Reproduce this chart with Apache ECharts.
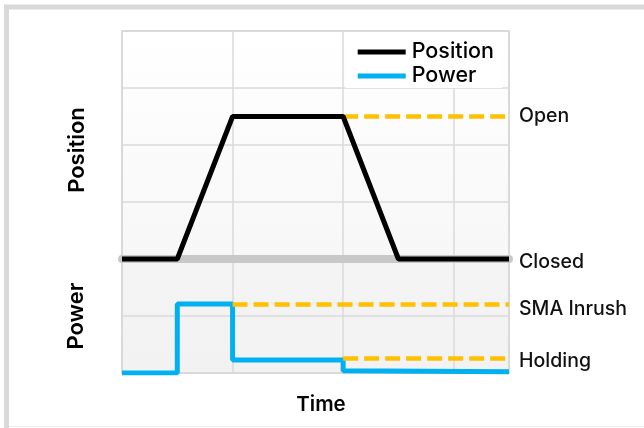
<!DOCTYPE html>
<html><head><meta charset="utf-8">
<script src="https://cdn.jsdelivr.net/npm/echarts@6/dist/echarts.min.js"></script>
<style>html,body{margin:0;padding:0;background:#fff}#c{width:644px;height:428px}</style>
</head><body><div id="c"></div>
<script>
// Data
var positionData = [[0,2],[0.5,2],[1,4.5],[2,4.5],[2.5,2],[3.5,2]];
var powerData = [[0,0],[0.5,0],[0.5,1.21],[1,1.21],[1,0.23],[2,0.23],[2,0.04],[3.5,0.02]];
var levelOpen = 4.5, levelClosed = 2, levelInrush = 1.2, levelHolding = 0.26;
var openStart = 2, inrushStart = 1, holdingStart = 2, timeEnd = 3.5;
var seriesNames = ['Position','Power'];
var refLabels = ['Open','Closed','SMA Inrush','Holding'];

var FONT = 'Inter';
var chart = echarts.init(document.getElementById('c'), null, {renderer:'canvas'});
function lbl(text, dy){
  return {show:true, position:'end', formatter:text, distance:10, color:'#111', fontFamily:FONT, fontWeight:500, fontSize:19.5, offset:[0,dy]};
}
function dashLine(x0, y, label, dy){
  return [{coord:[x0,y], label:lbl(label, dy)},{coord:[timeEnd,y]}];
}
chart.setOption({
  animation:false,
  graphic:[
    {type:'rect', shape:{x:4,y:5,width:5,height:423}, style:{fill:'#d9d9d9'}},
    {type:'rect', shape:{x:4,y:4.5,width:640,height:5}, style:{fill:'#d9d9d9'}},
    {type:'rect', shape:{x:9,y:426,width:635,height:1}, style:{fill:'#ededed'}},
    {type:'text', x:77, y:150, rotation:Math.PI/2, style:{text:'Position', fontFamily:FONT, fontWeight:600, fontSize:22, fill:'#000', textAlign:'center', textVerticalAlign:'middle'}},
    {type:'text', x:76, y:316, rotation:Math.PI/2, style:{text:'Power', fontFamily:FONT, fontWeight:600, fontSize:22, fill:'#000', textAlign:'center', textVerticalAlign:'middle'}}
  ],
  grid:{left:122, right:135, top:31, bottom:55, show:true, borderColor:'#cccccc', borderWidth:1.5,
    backgroundColor:{type:'linear', x:0, y:0, x2:0, y2:1, colorStops:[
      {offset:0,color:'#ffffff'},{offset:0.664,color:'#f7f7f7'},{offset:0.668,color:'#f4f4f4'},{offset:1,color:'#f2f2f2'}]}},
  legend:{data:seriesNames, orient:'vertical', left:345.7, top:32, icon:'rect', itemWidth:48, itemHeight:5, itemGap:2,
    padding:[9,8,1,12], backgroundColor:'#ffffff',
    textStyle:{fontFamily:FONT, fontWeight:500, fontSize:21.5, color:'#000', lineHeight:22, padding:[0,0,0,1]}},
  xAxis:{type:'value', min:0, max:timeEnd, interval:1, axisLabel:{show:false}, axisTick:{show:false}, axisLine:{show:false},
    splitLine:{show:true, lineStyle:{color:'#dadada', width:1.5}},
    name:'Time', nameLocation:'middle', nameGap:21, nameTextStyle:{fontFamily:FONT, fontWeight:600, fontSize:20.5, color:'#000', padding:[0,0,0,11]}},
  yAxis:{type:'value', min:0, max:6, interval:1, axisLabel:{show:false}, axisTick:{show:false}, axisLine:{show:false},
    splitLine:{show:true, lineStyle:{color:'#dadada', width:1.5}}},
  series:[
    {name:'closedRef', type:'line', data:[], z:1, silent:true,
      markLine:{symbol:'none', silent:true, lineStyle:{color:'#c8c8c8', width:8, type:'solid', cap:'round'},
        data:[[{coord:[0,levelClosed], label:lbl(refLabels[1], 3)},{coord:[timeEnd,levelClosed]}]]}},
    {name:'refs', type:'line', data:[], z:2, silent:true,
      markLine:{symbol:'none', silent:true, lineStyle:{color:'#ffc000', width:4.5, type:[15,6]},
        data:[dashLine(openStart, levelOpen, refLabels[0], 0), dashLine(inrushStart, levelInrush, refLabels[2], 5), dashLine(holdingStart, levelHolding, refLabels[3], 3)]}},
    {name:seriesNames[0], type:'line', data:positionData, symbol:'none', z:5, lineStyle:{color:'#000', width:5}, itemStyle:{color:'#000'}},
    {name:seriesNames[1], type:'line', data:powerData, symbol:'none', z:4, lineStyle:{color:'#00b0f0', width:5}, itemStyle:{color:'#00b0f0'}}
  ]
});
</script></body></html>
